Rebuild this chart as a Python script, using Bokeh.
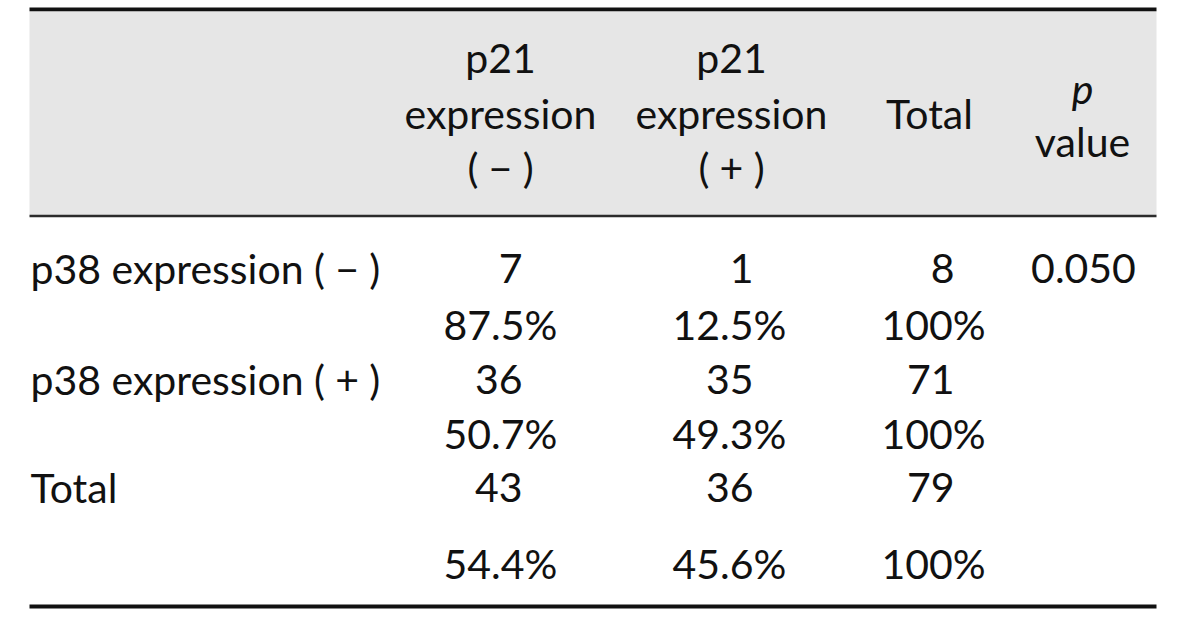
from bokeh.plotting import figure
from bokeh.models import Range1d, ColumnDataSource
from bokeh.core.properties import value
from bokeh.embed import file_html
from bokeh.resources import INLINE

# ---- data ----
SP = "\u2005"
header_cols = [["p21", "expression", "(" + SP + "\u2212" + SP + ")"],
               ["p21", "expression", "(" + SP + "+" + SP + ")"],
               ["Total"],
               ["p", "value"]]
row_labels = ["p38 expression (" + SP + "\u2212" + SP + ")",
              "p38 expression (" + SP + "+" + SP + ")",
              "Total"]
neg_counts = [7, 36, 43]
neg_pct = ["87.5%", "50.7%", "54.4%"]
pos_counts = [1, 35, 36]
pos_pct = ["12.5%", "49.3%", "45.6%"]
total_counts = [8, 71, 79]
total_pct = ["100%", "100%", "100%"]
p_values = ["0.050", "", ""]

# ---- layout ----
W, H = 1184, 612
FONT = "Lato"
FS = "41px"
TXT = "#111111"

p = figure(width=W, height=H, output_backend="svg", toolbar_location=None,
           x_range=Range1d(0, W), y_range=Range1d(H, 0),
           min_border=0, outline_line_color=None)
p.axis.visible = False
p.grid.visible = False
p.background_fill_color = "white"
p.border_fill_color = "white"

L, R = 29, 1156
# header background and rules
p.quad(left=[L], right=[R], top=[10.5], bottom=[214.5], fill_color="#e6e6e6", line_color=None)
p.quad(left=[L], right=[R], top=[7], bottom=[10.7], fill_color="#111111", line_color=None)
p.quad(left=[L], right=[R], top=[214.3], bottom=[216.8], fill_color="#2b2b2b", line_color=None)
p.quad(left=[L], right=[R], top=[604], bottom=[608], fill_color="#111111", line_color=None)

col_center = [500, 731, 929, 1082]
header_y = {3: [57, 113, 167], 1: [113], 2: [88, 141]}

hx, hy, ht, hs = [], [], [], []
for ci, lines in enumerate(header_cols):
    ys = header_y[len(lines)]
    for li, t in enumerate(lines):
        hx.append(col_center[ci]); hy.append(ys[li]); ht.append(t)
        hs.append("italic" if (ci == 3 and li == 0) else "normal")
src_h = ColumnDataSource(dict(x=hx, y=hy, t=ht, s=hs))
p.text(x="x", y="y", text="t", source=src_h, text_font=value(FONT), text_font_size=FS,
       text_font_style="s", text_align="center", text_baseline="middle", text_color=TXT)

count_y = [268, 379, 487]
pct_y = [324, 433, 563]

# row labels
p.text(x=[30] * 3, y=count_y, text=row_labels, text_font=value(FONT), text_font_size=FS,
       text_align="left", text_baseline="middle", text_color=TXT)

count_right = [522, 753, 954]
pct_center = [500, 729, 933]
for counts, pcts, cr, pc in [(neg_counts, neg_pct, count_right[0], pct_center[0]),
                             (pos_counts, pos_pct, count_right[1], pct_center[1]),
                             (total_counts, total_pct, count_right[2], pct_center[2])]:
    p.text(x=[cr] * 3, y=count_y, text=[str(c) for c in counts], text_font=value(FONT),
           text_font_size=FS, text_align="right", text_baseline="middle", text_color=TXT)
    p.text(x=[pc] * 3, y=pct_y, text=pcts, text_font=value(FONT),
           text_font_size=FS, text_align="center", text_baseline="middle", text_color=TXT)

p.text(x=[1083] * 3, y=count_y, text=p_values, text_font=value(FONT), text_font_size=FS,
       text_align="center", text_baseline="middle", text_color=TXT)

open("out.html", "w").write(file_html(p, INLINE))
